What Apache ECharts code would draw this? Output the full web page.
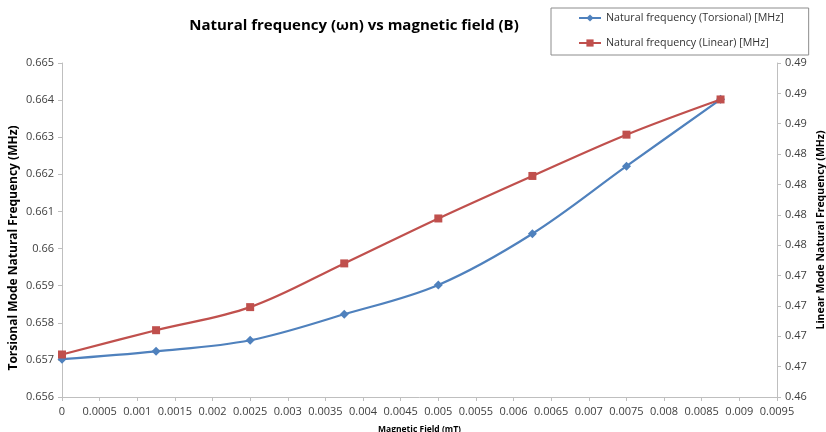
<!DOCTYPE html>
<html><head><meta charset="utf-8">
<script src="https://cdn.jsdelivr.net/npm/echarts@6/dist/echarts.min.js"></script>
<style>html,body{margin:0;padding:0;background:#fff}#c{width:826px;height:432px}</style>
</head><body><div id="c"></div>
<script>
const fieldMT = [0, 0.00125, 0.0025, 0.00375, 0.005, 0.00625, 0.0075, 0.00875];
const torsional = [0.65702, 0.65723, 0.65753, 0.65823, 0.65902, 0.6604, 0.66222, 0.66402];
const linear = [0.4660, 0.4680, 0.4699, 0.4735, 0.4772, 0.4807, 0.4841, 0.4870];
const seriesNames = ['Natural frequency (Torsional) [MHz]', 'Natural frequency (Linear) [MHz]'];
const axisNames = ['Magnetic Field (mT)', 'Torsional Mode Natural Frequency (MHz)', 'Linear Mode Natural Frequency (MHz)'];

const font = 'Open Sans, Noto Sans, sans-serif';
const chart = echarts.init(document.getElementById('c'));
chart.setOption({
  animation: false,
  title: {
    text: 'Natural frequency (\u03C9n) vs magnetic field (B)',
    left: 349, top: 13, textAlign: 'center',
    textStyle: {fontFamily: font, fontSize: 15, fontWeight: 'bold', color: '#000'}
  },
  legend: {
    orient: 'vertical', left: 551, top: 8,
    padding: [3, 25, 5, 27], itemGap: 11,
    borderColor: '#8c8c8c', borderWidth: 1,
    itemWidth: 22, itemHeight: 9,
    textStyle: {fontFamily: font, fontSize: 10.7, lineHeight: 14, color: '#333'},
    data: seriesNames
  },
  grid: {left: 62, right: 49, top: 63, bottom: 35, outerBoundsMode: 'none', containLabel: false},
  graphic: [
    {type: 'text', x: 14, y: 248, rotation: Math.PI / 2,
     style: {text: axisNames[1], fontFamily: font, fontSize: 12, fontWeight: 'bold', fill: '#000',
             align: 'center', verticalAlign: 'middle'}},
    {type: 'text', x: 821, y: 230, rotation: Math.PI / 2,
     style: {text: axisNames[2], fontFamily: font, fontSize: 10.5, fontWeight: 'bold', fill: '#000',
             align: 'center', verticalAlign: 'middle'}}
  ],
  xAxis: {
    type: 'value', min: 0, max: 0.0095, interval: 0.0005,
    name: axisNames[0], nameLocation: 'middle', nameGap: 28,
    nameTextStyle: {fontFamily: font, fontSize: 8.5, fontWeight: 'bold', color: '#000'},
    axisLine: {show: true, lineStyle: {color: '#bfbfbf'}},
    axisTick: {show: true, length: 4, lineStyle: {color: '#bfbfbf'}},
    splitLine: {show: false},
    axisLabel: {fontFamily: font, fontSize: 11, color: '#404040', margin: 9,
      formatter: v => String(+v.toFixed(5))}
  },
  yAxis: [{
    type: 'value', min: 0.656, max: 0.665, interval: 0.001,
    axisLine: {show: true, lineStyle: {color: '#bfbfbf'}},
    axisTick: {show: true, length: 4, lineStyle: {color: '#bfbfbf'}},
    splitLine: {show: false},
    axisLabel: {fontFamily: font, fontSize: 11, color: '#404040', margin: 8,
      formatter: v => String(+v.toFixed(3))}
  }, {
    type: 'value', min: 0.4625, max: 0.49, interval: 0.0025, position: 'right',
    axisLine: {show: true, lineStyle: {color: '#bfbfbf'}},
    axisTick: {show: true, length: 4, lineStyle: {color: '#bfbfbf'}},
    splitLine: {show: false},
    axisLabel: {fontFamily: font, fontSize: 11, color: '#404040', margin: 8,
      formatter: v => (Math.floor(v * 100 + 0.5 + 1e-9) / 100).toFixed(2)}
  }],
  series: [{
    name: seriesNames[0], type: 'line', yAxisIndex: 0, smooth: 0.35,
    data: fieldMT.map((x, i) => [x, torsional[i]]),
    symbol: 'diamond', symbolSize: 9,
    itemStyle: {color: '#4F81BD'}, lineStyle: {color: '#4F81BD', width: 2.2}
  }, {
    name: seriesNames[1], type: 'line', yAxisIndex: 1, smooth: 0.35,
    data: fieldMT.map((x, i) => [x, linear[i]]),
    symbol: 'rect', symbolSize: 8,
    itemStyle: {color: '#C0504D'}, lineStyle: {color: '#C0504D', width: 2.2}
  }]
});
</script></body></html>
